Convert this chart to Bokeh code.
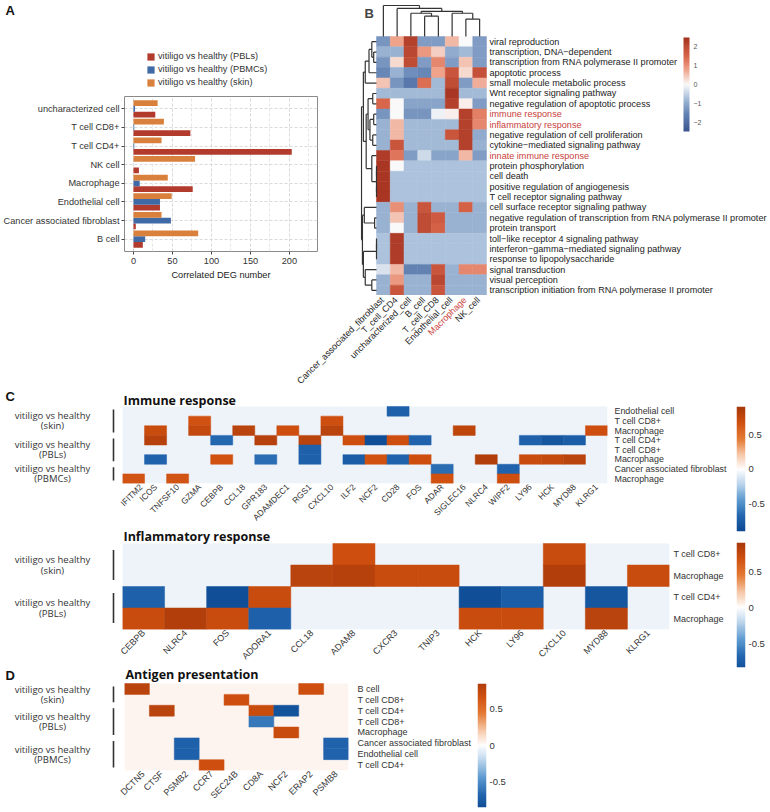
import math
import numpy as np
from bokeh.plotting import figure
from bokeh.models import (Range1d, FactorRange, LinearAxis, FixedTicker, SingleIntervalTicker,
                          Label, Legend, LegendItem, ColorBar, LinearColorMapper,
                          ColumnDataSource, Spacer, Plot)
from bokeh.layouts import row, column
from bokeh.transform import dodge, transform
from bokeh.core.properties import value
from bokeh.embed import file_html
from bokeh.resources import INLINE

# ---------------- Panel A data ----------------
a_cells = ["B cell", "Cancer associated fibroblast", "Endothelial cell", "Macrophage",
           "NK cell", "T cell CD4+", "T cell CD8+", "uncharacterized cell"]
a_pbls = [12, 3, 34, 76, 7, 203, 73, 28]
a_pbmcs = [15, 48, 34, 8, 0, 1, 1, 2]
a_skin = [83, 36, 49, 44, 79, 36, 39, 31]
a_series = ["vitiligo vs healthy (PBLs)", "vitiligo vs healthy (PBMCs)", "vitiligo vs healthy (skin)"]
a_xlabel = "Correlated DEG number"

# ---------------- Panel B data ----------------
b_cols = ["Cancer_associated_fibroblast", "T_cell_CD4", "uncharacterized_cell", "B_cell",
          "T_cell_CD8", "Endothelial_cell", "Macrophage", "NK_cell"]
b_rows = ["viral reproduction", "transcription, DNA\u2212dependent",
          "transcription from RNA polymerase II promoter", "apoptotic process",
          "small molecule metabolic process", "Wnt receptor signaling pathway",
          "negative regulation of apoptotic process", "immune response", "inflammatory response",
          "negative regulation of cell proliferation", "cytokine\u2212mediated signaling pathway",
          "innate immune response", "protein phosphorylation", "cell death",
          "positive regulation of angiogenesis", "T cell receptor signaling pathway",
          "cell surface receptor signaling pathway",
          "negative regulation of transcription from RNA polymerase II promoter",
          "protein transport", "toll\u2212like receptor 4 signaling pathway",
          "interferon\u2212gamma\u2212mediated signaling pathway", "response to lipopolysaccharide",
          "signal transduction", "visual perception",
          "transcription initiation from RNA polymerase II promoter"]
b_values = [
    [-1.3, 0.8, 2.2, -1.2, -1.2, 0.6, 0.0, -1.2],
    [-0.9, -0.9, 2.1, 0.9, 0.4, -1.0, -0.8, -1.2],
    [-1.3, 0.3, 2.0, -1.2, 1.1, -1.2, 0.5, -1.2],
    [-1.5, -0.9, -1.4, -1.5, 0.8, 1.8, 0.3, 1.9],
    [0.5, -1.3, -1.8, 1.4, -0.8, 2.0, -1.2, 0.7],
    [-0.8, -0.8, -0.8, -0.8, -0.8, 2.4, -0.8, -0.8],
    [1.5, 0.0, -1.1, -1.1, -1.1, 2.2, 0.1, -1.2],
    [-1.3, 0.0, -1.3, -1.3, -0.1, 0.1, 2.2, 1.2],
    [-0.9, 0.6, -0.8, -0.8, -0.8, -0.8, 2.2, 1.1],
    [-0.9, 0.6, -0.8, -0.8, -0.8, 1.8, 2.2, -1.0],
    [-0.9, 1.8, -0.8, -0.8, -0.8, -0.8, 2.2, -0.9],
    [2.3, 1.3, -1.2, -0.4, -1.1, -1.1, 0.6, -1.2],
    [2.4, 0.0, -0.7, -0.7, -0.7, -0.7, -0.7, -0.7],
    [2.4, -0.7, -0.7, -0.7, -0.7, -0.7, -0.7, -0.7],
    [2.4, -0.7, -0.7, -0.7, -0.7, -0.7, -0.7, -0.7],
    [2.4, -0.7, -0.7, -0.7, -0.7, -0.7, -0.7, -0.7],
    [-0.9, 1.0, -0.9, 1.8, -0.9, -0.9, 1.6, -0.9],
    [-0.9, 0.5, -0.9, 2.0, 1.7, -0.9, -0.9, -0.9],
    [-0.9, 0.0, -0.9, 2.0, 1.6, -0.9, -0.9, -0.9],
    [-0.7, 2.3, -0.7, -0.7, -0.7, -0.7, -0.7, -0.7],
    [-0.7, 2.3, -0.7, -0.7, -0.7, -0.7, -0.7, -0.7],
    [-0.7, 2.3, -0.7, -0.7, -0.7, -0.7, -0.7, -0.7],
    [-0.3, 0.6, -1.6, -1.6, 1.8, -0.9, 1.1, 1.1],
    [-0.9, 0.9, -0.9, -0.9, 2.1, -0.9, -0.9, -0.9],
    [-0.9, 1.8, -0.9, -0.9, 1.8, -0.9, -0.9, -0.9],
]
b_red_rows = ["immune response", "inflammatory response", "innate immune response"]
b_red_cols = ["Macrophage"]
# linkage merges: (left, right, height); new node ids start at n
b_col_merges = [(3, 4, 21), (2, 8, 24), (6, 7, 18), (5, 10, 24), (9, 11, 26), (1, 12, 29), (0, 13, 32)]
b_row_merges = [(1, 2, 3), (0, 25, 5), (26, 3, 8), (27, 4, 12), (5, 6, 4), (7, 8, 3), (9, 10, 4),
                (30, 31, 7), (29, 32, 9), (12, 13, 0), (14, 15, 0), (34, 35, 0), (11, 36, 5),
                (33, 37, 11), (28, 38, 14), (17, 18, 2), (16, 40, 13), (19, 20, 0), (42, 21, 0),
                (23, 24, 5), (22, 44, 12), (43, 45, 14), (41, 46, 15), (39, 47, 16)]
b_ticks = [-2, -1, 0, 1, 2]

# ---------------- Panel C / D data ----------------
grp_names = {"skin": "vitiligo vs healthy\n(skin)", "PBLs": "vitiligo vs healthy\n(PBLs)",
             "PBMCs": "vitiligo vs healthy\n(PBMCs)"}

c1_title = "Immune response"
c1_genes = ["IFITM2", "ICOS", "TNFSF10", "GZMA", "CEBPB", "CCL18", "GPR183", "ADAMDEC1", "RGS1",
            "CXCL10", "ILF2", "NCF2", "CD28", "FOS", "ADAR", "SIGLEC16", "NLRC4", "WIPF2", "LY96",
            "HCK", "MYD88", "KLRG1"]
c1_rows = ["Endothelial cell", "T cell CD8+", "Macrophage", "T cell CD4+", "T cell CD8+",
           "Macrophage", "Cancer associated fibroblast", "Macrophage"]
c1_groups = [("skin", 0, 2), ("PBLs", 3, 5), ("PBMCs", 6, 7)]
c1_cells = [("IFITM2", 7, 0.66), ("ICOS", 2, 0.72), ("ICOS", 3, 0.82), ("ICOS", 5, -0.70),
            ("TNFSF10", 7, 0.66), ("GZMA", 1, 0.68), ("GZMA", 2, 0.75), ("CEBPB", 3, -0.68),
            ("CEBPB", 5, 0.68), ("CCL18", 2, 0.80), ("GPR183", 3, 0.82), ("GPR183", 5, -0.65),
            ("ADAMDEC1", 2, 0.70), ("RGS1", 3, 0.80), ("RGS1", 4, -0.72), ("RGS1", 5, -0.72),
            ("CXCL10", 1, 0.70), ("CXCL10", 2, 0.80), ("ILF2", 3, 0.70), ("ILF2", 5, -0.75),
            ("NCF2", 3, -0.85), ("NCF2", 5, 0.68), ("CD28", 0, -0.72), ("CD28", 3, 0.70),
            ("CD28", 5, -0.70), ("FOS", 3, -0.70), ("FOS", 5, 0.70), ("ADAR", 6, -0.65),
            ("ADAR", 7, 0.68), ("SIGLEC16", 2, 0.78), ("NLRC4", 5, 0.85), ("WIPF2", 6, -0.70),
            ("WIPF2", 7, 0.70), ("LY96", 3, -0.72), ("LY96", 5, 0.72), ("HCK", 3, -0.80),
            ("HCK", 5, 0.75), ("MYD88", 3, -0.75), ("MYD88", 5, 0.80), ("KLRG1", 2, 0.70)]

c2_title = "Inflammatory response"
c2_genes = ["CEBPB", "NLRC4", "FOS", "ADORA1", "CCL18", "ADAM8", "CXCR3", "TNIP3", "HCK", "LY96",
            "CXCL10", "MYD88", "KLRG1"]
c2_rows = ["T cell CD8+", "Macrophage", "T cell CD4+", "Macrophage"]
c2_groups = [("skin", 0, 1), ("PBLs", 2, 3)]
c2_cells = [("CEBPB", 2, -0.72), ("CEBPB", 3, 0.72), ("NLRC4", 3, 0.85), ("FOS", 2, -0.85),
            ("FOS", 3, 0.72), ("ADORA1", 2, 0.72), ("ADORA1", 3, -0.72), ("CCL18", 1, 0.80),
            ("ADAM8", 0, 0.70), ("ADAM8", 1, 0.82), ("CXCR3", 1, 0.72), ("TNIP3", 1, 0.72),
            ("HCK", 2, -0.85), ("HCK", 3, 0.72), ("LY96", 2, -0.75), ("LY96", 3, 0.72),
            ("CXCL10", 0, 0.72), ("CXCL10", 1, 0.85), ("MYD88", 2, -0.80), ("MYD88", 3, 0.80),
            ("KLRG1", 1, 0.72)]

d_title = "Antigen presentation"
d_genes = ["DCTN5", "CTSF", "PSMB2", "CCR7", "SEC24B", "CD8A", "NCF2", "ERAP2", "PSMB8"]
d_rows = ["B cell", "T cell CD8+", "T cell CD4+", "T cell CD8+", "Macrophage",
          "Cancer associated fibroblast", "Endothelial cell", "T cell CD4+"]
d_groups = [("skin", 0, 1), ("PBLs", 2, 4), ("PBMCs", 5, 7)]
d_cells = [("DCTN5", 0, 0.80), ("CTSF", 2, 0.80), ("PSMB2", 5, -0.72), ("PSMB2", 6, -0.72),
           ("CCR7", 7, 0.70), ("SEC24B", 1, 0.70), ("CD8A", 2, 0.72), ("CD8A", 3, -0.60),
           ("NCF2", 2, -0.82), ("NCF2", 4, 0.72), ("ERAP2", 0, 0.70), ("PSMB8", 5, -0.70),
           ("PSMB8", 6, -0.70)]
cd_ticks = [-0.5, 0, 0.5]

# ---------------- styles ----------------
SANS = "Liberation Sans"
OPEN = "Open Sans"
COL_PBL, COL_PBMC, COL_SKIN = "#B23B2E", "#3F6AA5", "#D9803C"
RED = "#C8413B"
TXT = "#333333"
FA = {"frame_align": False} if "frame_align" in Plot.properties() else {}


def ramp(stops, n=256):
    fr = np.array([s[0] for s in stops])
    cols = np.array([[int(h[i:i + 2], 16) for i in (1, 3, 5)] for _, h in stops], float)
    out = []
    for t in np.linspace(0, 1, n):
        rgb = [int(round(np.interp(t, fr, cols[:, k]))) for k in range(3)]
        out.append("#%02x%02x%02x" % tuple(rgb))
    return out


pal_b = ramp([(0, "#3A5590"), (0.2, "#6787B6"), (0.34, "#A2BAD7"), (0.5, "#FAFAFA"),
              (0.66, "#EFA28A"), (0.8, "#D9654A"), (0.92, "#BA4731"), (1.0, "#A3311F")])
pal_c = ramp([(0, "#0B4891"), (0.12, "#2266AF"), (0.25, "#5C9AD0"), (0.38, "#B8D3EB"),
              (0.5, "#FFFFFF"), (0.62, "#F6C6A6"), (0.75, "#E47A34"), (0.88, "#D05010"),
              (1.0, "#A8390A")])
map_b = LinearColorMapper(palette=pal_b, low=-2.5, high=2.5)
map_c = LinearColorMapper(palette=pal_c, low=-0.9, high=0.9)


def bare(fw, fh, xr, yr, ml, mr, mt, mb):
    p = figure(frame_width=fw, frame_height=fh, x_range=xr, y_range=yr,
               min_border_left=ml, min_border_right=mr, min_border_top=mt, min_border_bottom=mb,
               x_axis_location=None, y_axis_location=None,
               output_backend="svg", toolbar_location=None, **FA)
    p.outline_line_color = None
    p.background_fill_color = "white"
    p.border_fill_color = "white"
    p.grid.visible = False
    return p


def style_axis(ax, size, standoff, color=TXT):
    ax.axis_line_color = None
    ax.major_tick_line_color = None
    ax.minor_tick_line_color = None
    ax.major_tick_out = 0
    ax.major_tick_in = 0
    ax.major_label_standoff = standoff
    ax.major_label_text_font = SANS
    ax.major_label_text_font_size = size
    ax.major_label_text_color = color


# ---------------- Panel A header (canvas x 0..345, y 0..95): letter + legend ----------------
pAh = bare(345, 95, Range1d(0, 345), Range1d(95, 0), 0, 0, 0, 0)
pAh.text(x=[5], y=[10], text=["A"], text_font=value(SANS), text_font_style="bold",
         text_font_size="13px", text_baseline="middle", text_color="#111111")
leg_r = []
for col in (COL_PBL, COL_PBMC, COL_SKIN):
    leg_r.append(pAh.hbar(y=[0], left=[0], right=[0], height=0, fill_color=col, line_color=None))
legA = Legend(items=[LegendItem(label=s, renderers=[r]) for s, r in zip(a_series, leg_r)],
              location=(146, 8), glyph_width=9, glyph_height=9, label_height=9, label_standoff=3,
              spacing=3, padding=0, margin=0, border_line_color=None, background_fill_alpha=0,
              label_text_font=SANS, label_text_font_size="9.2px", label_text_color=TXT)
pAh.add_layout(legA)

# ---------------- Panel A main (canvas x 0..345, y 95..295) ----------------
pA = figure(frame_width=193, frame_height=155, x_range=Range1d(-11.5, 236),
            y_range=FactorRange(factors=a_cells, range_padding=0.16, range_padding_units="absolute"),
            min_border_left=123, min_border_right=29, min_border_top=1, min_border_bottom=44,
            output_backend="svg", toolbar_location=None, **FA)
srcA = ColumnDataSource(dict(cell=a_cells, pbls=a_pbls, pbmcs=a_pbmcs, skin=a_skin))
for fld, off, col in [("pbls", -0.31, COL_PBL), ("pbmcs", 0.0, COL_PBMC), ("skin", 0.31, COL_SKIN)]:
    pA.hbar(y=dodge("cell", off, range=pA.y_range), left=0, right=fld, height=0.31,
            source=srcA, fill_color=col, line_color=None)
pA.xaxis.ticker = SingleIntervalTicker(interval=50, num_minor_ticks=2)
pA.xaxis.axis_label = a_xlabel
for ax in (pA.xaxis[0], pA.yaxis[0]):
    ax.axis_line_color = None
    ax.major_tick_out = 3
    ax.major_tick_in = 0
    ax.minor_tick_line_color = None
    ax.major_tick_line_color = "#444444"
    ax.major_label_standoff = 2
    ax.major_label_text_font = SANS
    ax.major_label_text_font_size = "9.2px"
    ax.major_label_text_color = TXT
pA.xaxis.axis_label_standoff = 3
pA.xaxis.axis_label_text_font = SANS
pA.xaxis.axis_label_text_font_size = "9.2px"
pA.xaxis.axis_label_text_font_style = "normal"
pA.xaxis.axis_label_text_color = "#222222"
pA.xgrid.grid_line_color = "#DADADA"
pA.xgrid.grid_line_dash = "3 2"
pA.xgrid.minor_grid_line_color = "#E6E6E6"
pA.xgrid.minor_grid_line_dash = "3 2"
pA.ygrid.grid_line_color = "#DADADA"
pA.ygrid.grid_line_dash = "3 2"
pA.outline_line_color = "#8A8A8A"
pA.outline_line_width = 1

# ---------------- Panel B (canvas x 345..768, y 0..295) ----------------
CW, RH = 13.75, 10.36
nbr, nbc = len(b_rows), len(b_cols)
xrB = Range1d(-0.5 - 16 / CW, -0.5 + (768 - 375) / CW)
yrB = Range1d(nbr - 0.5, -0.5 - 32 / RH)
pB = bare(409, 291, xrB, yrB, 14, 0, 4, 0)
bx, by, bv = [], [], []
for i in range(nbr):
    for j in range(nbc):
        bx.append(j); by.append(i); bv.append(b_values[i][j])
pB.rect(x="x", y="y", width=1, height=1, source=ColumnDataSource(dict(x=bx, y=by, v=bv)),
        fill_color=transform("v", map_b), line_color=transform("v", map_b), line_width=0.5)


def dendro(merges, n):
    pos = [float(k) for k in range(n)]
    hts = [0.0] * n
    segs = []
    for a, b, h in merges:
        for c in (a, b):
            segs.append((pos[c], hts[c], pos[c], h))
        segs.append((pos[a], h, pos[b], h))
        pos.append((pos[a] + pos[b]) / 2)
        hts.append(h)
    return segs


hmax_c = max(m[2] for m in b_col_merges)
segs = dendro(b_col_merges, nbc)
kc = 31 / RH / hmax_c
pB.segment(x0=[s[0] for s in segs], y0=[-0.5 - s[1] * kc for s in segs],
           x1=[s[2] for s in segs], y1=[-0.5 - s[3] * kc for s in segs],
           line_color="#333333", line_width=1.2)
hmax_r = max(m[2] for m in b_row_merges)
segs = dendro(b_row_merges, nbr)
kr = 15 / CW / hmax_r
pB.segment(y0=[s[0] for s in segs], x0=[-0.5 - s[1] * kr for s in segs],
           y1=[s[2] for s in segs], x1=[-0.5 - s[3] * kr for s in segs],
           line_color="#333333", line_width=1.2)
pB.text(x=[nbc - 0.5] * nbr, y=list(range(nbr)), text=b_rows, x_offset=3,
        text_color=[RED if n in b_red_rows else "#222222" for n in b_rows],
        text_baseline="middle", text_align="left", text_font=value(SANS), text_font_size="9.1px")
cbB = ColorBar(color_mapper=map_b, ticker=FixedTicker(ticks=b_ticks), width=6, height=94,
               location=(323, 164), padding=0, margin=0, major_tick_line_color=None,
               bar_line_color=None, background_fill_alpha=0, border_line_color=None,
               major_label_text_font=SANS, major_label_text_font_size="7px",
               major_label_text_color="#555555", label_standoff=4)
pB.add_layout(cbB)
pB.add_layout(Label(x=4, y=290, x_units="screen", y_units="screen", text="B", text_font=SANS,
                    text_font_style="bold", text_font_size="13px", text_baseline="top"))

# column labels band (canvas x 0..768, y 295..388)
pBand = bare(768, 93, Range1d(-0.5 - 375 / CW, -0.5 + (768 - 375) / CW), Range1d(0, 93), 0, 0, 0, 0)
pBand.text(x=list(range(nbc)), y=[90] * nbc, text=b_cols, angle=math.pi / 4,
           text_color=[RED if c in b_red_cols else "#222222" for c in b_cols],
           text_align="right", text_baseline="middle", text_font=value(SANS), text_font_size="9px")


# ---------------- Panels C / D ----------------
def section(genes, rows, groups, cells, xl, xr, yct, yft, yfb, ycb, xcr, bg, title, title_yc,
            letter, letter_yc, standoff, gene_fs, row_fs):
    n, ng = len(rows), len(genes)
    rh = (yfb - yft) / n
    yr = Range1d(n - 0.5, -0.5 - (yft - yct) / rh)
    fh = yfb - yct
    lf = bare(118, fh, Range1d(0, 118), yr, 0, 0, 0, ycb - yfb)
    centers = [(a + b) / 2 for _, a, b in groups]
    halves = [min((b - a + 1) * rh / 2 - 3, 15) / rh for _, a, b in groups]
    lf.text(x=[52] * len(groups), y=centers, text=[grp_names[g] for g, _, _ in groups],
            text_align="center", text_baseline="middle", text_font=value(OPEN),
            text_font_size="9.5px", text_color=TXT, text_line_height=0.78)
    lf.segment(x0=[113] * len(groups), x1=[113] * len(groups),
               y0=[c - h for c, h in zip(centers, halves)], y1=[c + h for c, h in zip(centers, halves)],
               line_color="#333333", line_width=1.6)
    if letter:
        lf.text(x=[5], y=[-0.5 - (yft - letter_yc) / rh], text=[letter], text_font=value(SANS),
                text_font_style="bold", text_font_size="13px", text_baseline="middle",
                text_color="#111111")
    hf = bare(xr - xl, fh, Range1d(-0.5, ng - 0.5), yr, xl - 118, xcr - xr, 0, ycb - yfb)
    hf.rect(x=[(ng - 1) / 2], y=[(n - 1) / 2], width=ng, height=n, fill_color=bg, line_color=None)
    src = ColumnDataSource(dict(x=[genes.index(g) for g, _, _ in cells], y=[r for _, r, _ in cells],
                                v=[v for _, _, v in cells]))
    hf.rect(x="x", y="y", width=1, height=1, source=src, fill_color=transform("v", map_c),
            line_color=transform("v", map_c), line_width=0.5)
    axr = LinearAxis(ticker=FixedTicker(ticks=list(range(n))),
                     major_label_overrides={i: nm for i, nm in enumerate(rows)})
    style_axis(axr, row_fs, standoff)
    hf.add_layout(axr, "right")
    axb = LinearAxis(ticker=FixedTicker(ticks=list(range(ng))),
                     major_label_overrides={j: g for j, g in enumerate(genes)},
                     major_label_orientation=math.pi / 4)
    style_axis(axb, gene_fs, 2)
    hf.add_layout(axb, "below")
    hf.text(x=[-0.5], y=[-0.5 - (yft - title_yc) / rh], text=[title], x_offset=1,
            text_font=value(OPEN), text_font_style="bold", text_font_size="12.5px",
            text_baseline="middle", text_color="#111111")
    return lf, hf


def cbar(x0, xf0, xf1, x1, y0, yf0, yf1, y1, lo, hi):
    p = bare(xf1 - xf0, yf1 - yf0, Range1d(0, 1), Range1d(lo, hi), xf0 - x0, x1 - xf1,
             yf0 - y0, y1 - yf1)
    grad = np.linspace(lo, hi, 256).reshape(-1, 1)
    p.image(image=[grad], x=0, y=lo, dw=1, dh=hi - lo, color_mapper=map_c)
    ax = LinearAxis(ticker=FixedTicker(ticks=cd_ticks),
                    major_label_overrides={-0.5: "-0.5", 0: "0", 0.5: "0.5"})
    style_axis(ax, "9.5px", 3)
    p.add_layout(ax, "right")
    return p


lf1, hf1 = section(c1_genes, c1_rows, c1_groups, c1_cells, 122, 607, 388, 406, 483, 526, 728,
                   "#EEF3F9", c1_title, 400, "C", 396, 7, "8.5px", "8.9px")
lf2, hf2 = section(c2_genes, c2_rows, c2_groups, c2_cells, 122, 669, 526, 541, 627, 664, 728,
                   "#EEF3F9", c2_title, 534, None, 0, 4, "9px", "9px")
lfD, hfD = section(d_genes, d_rows, d_groups, d_cells, 124, 348, 664, 680, 767, 810, 472,
                   "#FDF4EF", d_title, 671, "D", 672, 9, "9px", "9px")
cb1 = cbar(728, 734, 743, 768, 388, 406, 531, 536, -0.899, 0.913)
cb2 = cbar(728, 734, 743, 768, 536, 542, 667, 671, -0.833, 0.903)
cbD = cbar(472, 475, 484, 510, 664, 680, 804, 810, -0.861, 0.861)

top = column(row(column(pAh, pA), pB), pBand)
maincol = column(row(lf1, hf1), row(lf2, hf2),
                 row(lfD, hfD, cbD, Spacer(width=218, height=146)))
rightcol = column(cb1, cb2, Spacer(width=40, height=139))
layout = column(top, row(maincol, rightcol))

open("out.html", "w").write(file_html(layout, INLINE, "chart"))
